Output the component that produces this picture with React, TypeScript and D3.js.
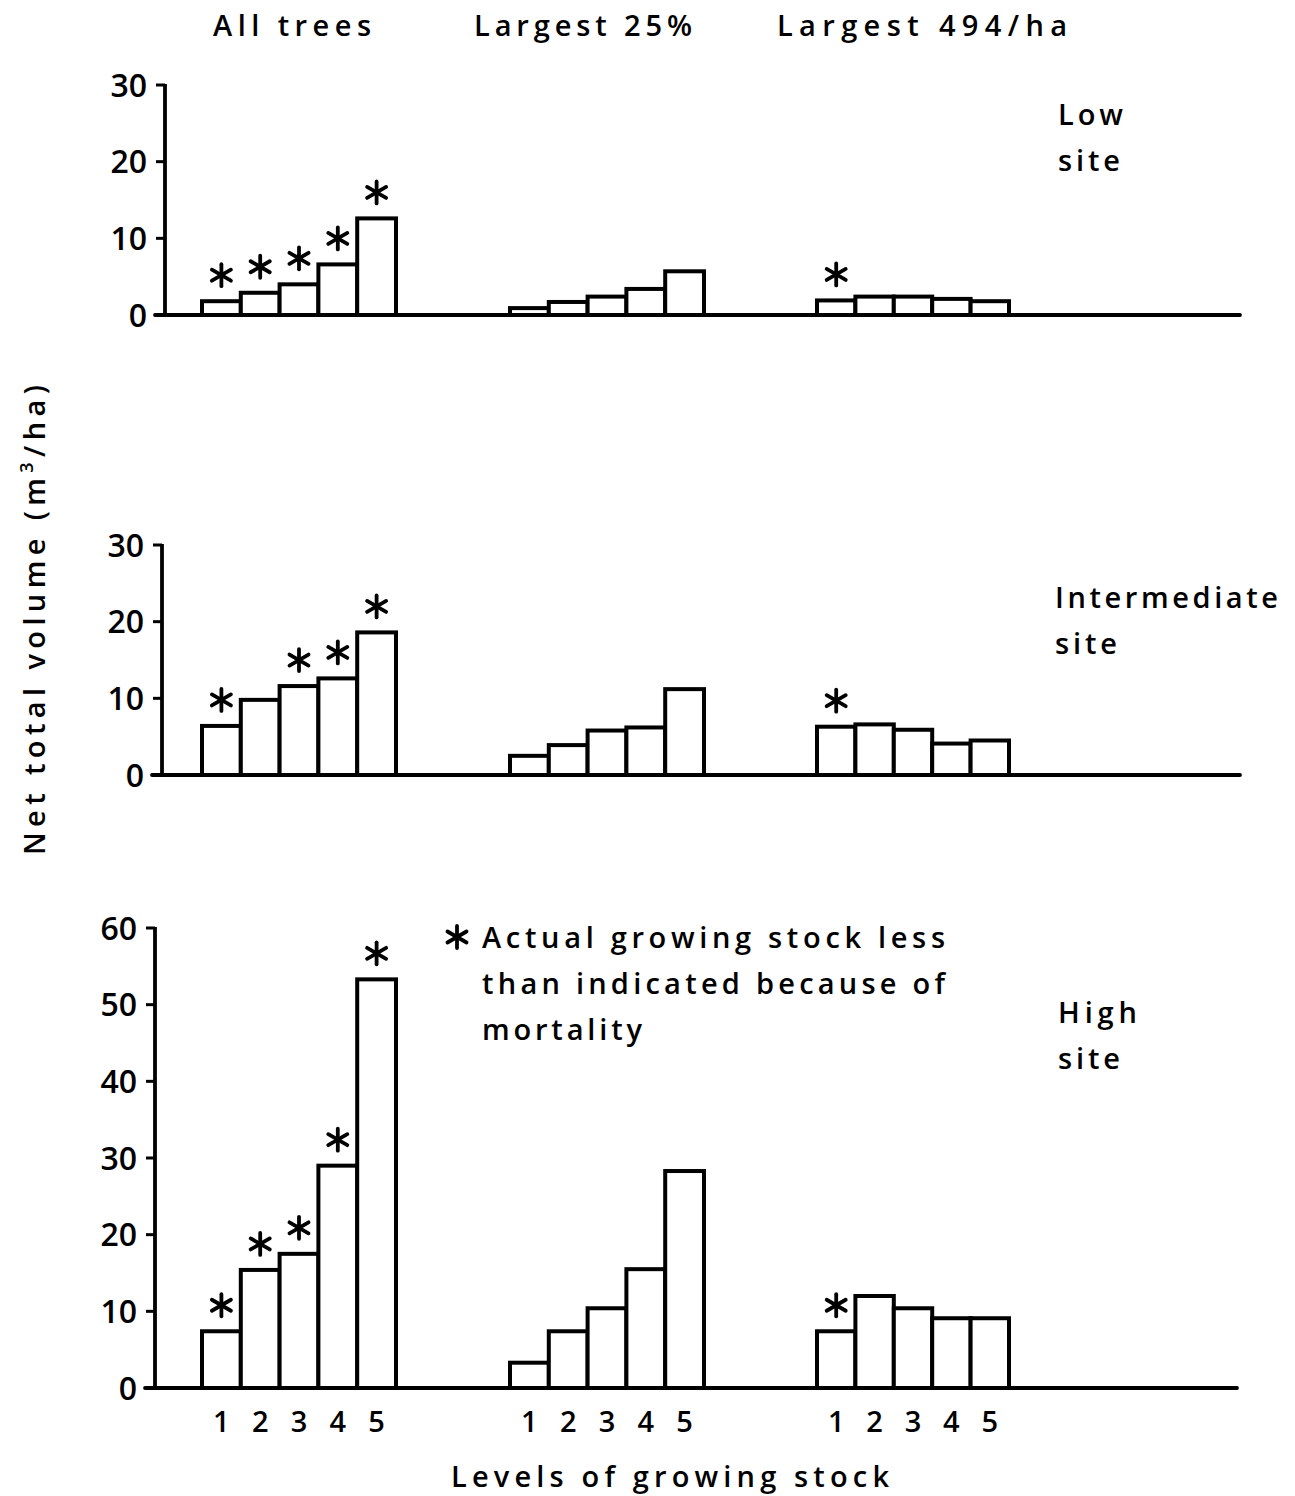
import React from "react";
import * as d3 from "d3";

const levels = ["1", "2", "3", "4", "5"];
const groups = ["All trees", "Largest 25%", "Largest 494/ha"];
const sites = ["Low", "Intermediate", "High"];

// values [group][level]
const lowValues = [
  [1.8, 2.9, 4.0, 6.6, 12.6],
  [0.9, 1.7, 2.4, 3.4, 5.7],
  [1.9, 2.4, 2.4, 2.1, 1.8],
];
const intermediateValues = [
  [6.4, 9.8, 11.6, 12.6, 18.6],
  [2.5, 3.9, 5.8, 6.2, 11.2],
  [6.3, 6.6, 5.9, 4.1, 4.5],
];
const highValues = [
  [7.4, 15.4, 17.5, 29.0, 53.3],
  [3.3, 7.4, 10.4, 15.5, 28.3],
  [7.4, 12.0, 10.4, 9.1, 9.1],
];
// asterisk flags: mortality lowered growing stock
const lowStar = [
  [1, 1, 1, 1, 1],
  [0, 0, 0, 0, 0],
  [1, 0, 0, 0, 0],
];
const intermediateStar = [
  [1, 0, 1, 1, 1],
  [0, 0, 0, 0, 0],
  [1, 0, 0, 0, 0],
];
const highStar = [
  [1, 1, 1, 1, 1],
  [0, 0, 0, 0, 0],
  [1, 0, 0, 0, 0],
];
const ticks30 = [0, 10, 20, 30];
const ticks60 = [0, 10, 20, 30, 40, 50, 60];

const FONT = "'Open Sans', 'Noto Sans', sans-serif";
const FW = 600;

const panels = [
  { site: sites[0], values: lowValues, stars: lowStar, max: 30, ticks: ticks30, y0: 315, y1: 85, axisX: 165, endX: 1240, labelY: 115, siteLen: 65, labelX: 1058 },
  { site: sites[1], values: intermediateValues, stars: intermediateStar, max: 30, ticks: ticks30, y0: 775, y1: 545, axisX: 162, endX: 1240, labelY: 598, siteLen: 223, labelX: 1055 },
  { site: sites[2], values: highValues, stars: highStar, max: 60, ticks: ticks60, y0: 1388, y1: 928, axisX: 155, endX: 1237, labelY: 1013, siteLen: 79, labelX: 1058 },
];

const groupRanges: [number, number][] = [
  [202, 396],
  [510, 704],
  [817, 1009],
];

function Asterisk({ cx, cy, r = 11 }: { cx: number; cy: number; r?: number }) {
  const angles = [90, 30, 150];
  return (
    <g>
      {angles.map((a) => {
        const rad = (a * Math.PI) / 180;
        const dx = Math.cos(rad) * r;
        const dy = Math.sin(rad) * r;
        return (
          <line key={a} x1={cx - dx} y1={cy - dy} x2={cx + dx} y2={cy + dy} stroke="#000" strokeWidth={3.8} strokeLinecap="round" />
        );
      })}
      <circle cx={cx} cy={cy} r={3} fill="#000" />
    </g>
  );
}

export default function App() {
  const xScales = groupRanges.map((r) => d3.scaleBand<string>().domain(levels).range(r).padding(0));

  return (
    <svg width={1295} height={1496} style={{ display: "block", position: "absolute", left: 0, top: 0, background: "#fff" }} fontFamily={FONT} fontWeight={FW}>
      <rect x={0} y={0} width={1295} height={1496} fill="#fff" />
      {/* column headers */}
      {groups.map((g, i) => {
        const cx = [292, 583, 922][i];
        const len = [158, 218, 290][i];
        return (
          <text key={g} x={cx} y={36} textAnchor="middle" fontSize={29} textLength={len} lengthAdjust="spacing">
            {g}
          </text>
        );
      })}

      {panels.map((p, pi) => {
        const y = d3.scaleLinear().domain([0, p.max]).range([p.y0, p.y1]);
        return (
          <g key={p.site}>
            {/* y axis */}
            <line x1={p.axisX} y1={y(p.max) - 1} x2={p.axisX} y2={y(0)} stroke="#000" strokeWidth={3.8} />
            <line x1={p.axisX - 10} y1={y(0)} x2={p.endX} y2={y(0)} stroke="#000" strokeWidth={3.8} strokeLinecap="round" />
            {p.ticks.map((t) => (
              <g key={t}>
                <line x1={p.axisX - 9} x2={p.axisX} y1={y(t)} y2={y(t)} stroke="#000" strokeWidth={3} />
                <text x={p.axisX - 18} y={y(t)} dy="0.36em" textAnchor="end" fontSize={32}>
                  {t}
                </text>
              </g>
            ))}
            {/* bars */}
            {p.values.map((vals, gi) =>
              vals.map((v, li) => {
                const xs = xScales[gi];
                const x0 = xs(levels[li])!;
                const w = xs.bandwidth();
                return (
                  <g key={`${gi}-${li}`}>
                    <rect x={x0} y={y(v)} width={w} height={y(0) - y(v)} fill="#fff" stroke="#000" strokeWidth={4} />
                    {p.stars[gi][li] ? <Asterisk cx={x0 + w / 2} cy={y(v) - 26} /> : null}
                  </g>
                );
              })
            )}
            {/* site label */}
            <text x={p.labelX} y={p.labelY} dy="0.36em" fontSize={29} textLength={p.siteLen} lengthAdjust="spacing">
              {p.site}
            </text>
            <text x={p.labelX} y={p.labelY + 46} dy="0.36em" fontSize={29} textLength={62} lengthAdjust="spacing">
              site
            </text>
          </g>
        );
      })}

      {/* x tick labels */}
      {xScales.map((xs, gi) =>
        levels.map((l) => (
          <text key={`${gi}-${l}`} x={xs(l)! + xs.bandwidth() / 2} y={1422} dy="0.36em" textAnchor="middle" fontSize={29}>
            {l}
          </text>
        ))
      )}

      {/* legend note */}
      <Asterisk cx={457} cy={937} r={11} />
      <text x={482} y={938} dy="0.36em" fontSize={29} textLength={463} lengthAdjust="spacing">
        Actual growing stock less
      </text>
      <text x={482} y={984} dy="0.36em" fontSize={29} textLength={463} lengthAdjust="spacing">
        than indicated because of
      </text>
      <text x={482} y={1030} dy="0.36em" fontSize={29} textLength={160} lengthAdjust="spacing">
        mortality
      </text>

      {/* x axis title */}
      <text x={670} y={1477} dy="0.36em" textAnchor="middle" fontSize={29} textLength={438} lengthAdjust="spacing">
        Levels of growing stock
      </text>

      {/* y axis title */}
      <text transform="translate(35,620) rotate(-90)" textAnchor="middle" dy="0.36em" fontSize={29} textLength={470} lengthAdjust="spacing">
        Net total volume (m<tspan baselineShift="super" fontSize={18}>3</tspan>/ha)
      </text>
    </svg>
  );
}
